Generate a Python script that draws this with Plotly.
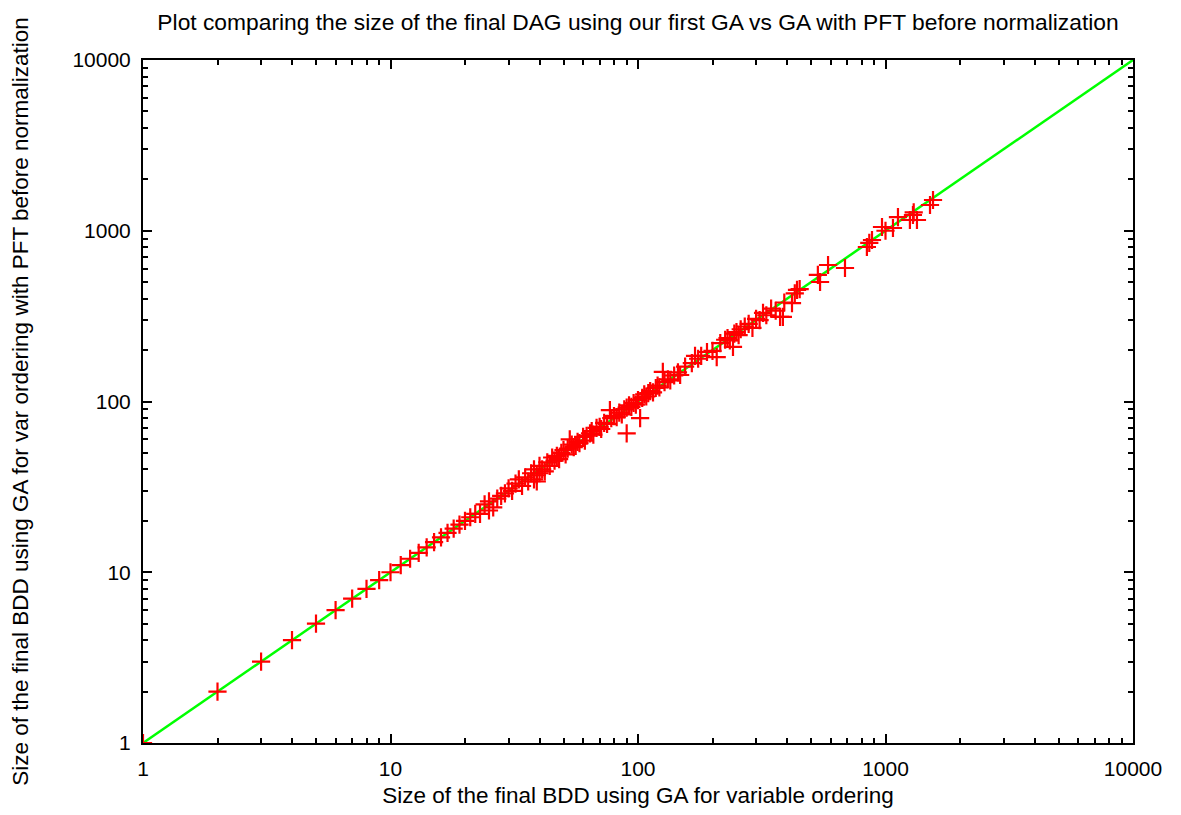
import plotly.graph_objects as go

# Data: (x = size with first GA, y = size with GA+PFT before normalization)
ga_sizes = [1, 2, 3, 4, 5, 6, 7, 8, 9,
            10, 11, 12, 13, 14, 15, 16, 17, 18, 19, 20, 21, 22, 23, 24, 25, 25, 26, 27, 28, 29,
            30, 31, 32, 33, 34, 35, 36, 37, 38, 38, 39, 39, 40, 40, 41, 42, 43, 44, 45, 46, 47, 48, 49,
            50, 51, 52, 53, 54, 55, 56, 57, 58, 60, 61, 62, 64, 65, 66, 68, 70, 71, 73, 75, 77, 78,
            80, 82, 84, 86, 88, 90, 90, 92, 94, 96, 98, 100, 102, 104, 106, 108, 110, 112, 115, 118,
            120, 122, 126, 128, 132, 135, 140, 145, 148, 155, 165, 170, 175, 180, 190, 200, 208, 215,
            225, 230, 235, 242, 245, 250, 255, 260, 270, 280, 290, 300, 310, 320, 330, 345, 360, 375,
            385, 390, 419, 430, 439, 450, 533, 544, 586, 686, 841, 860, 882, 968, 1000, 1072, 1123,
            1255, 1291, 1300, 1340, 1513, 1556]
pft_sizes = [1, 2, 3, 4, 5, 6, 7, 8, 9,
             10, 11, 12, 13, 14, 15, 16, 17, 18, 19, 20, 21, 22, 22, 25, 23, 26, 24, 27, 28, 29,
             31, 30, 33, 35, 32, 36, 34, 38, 35, 40, 37, 34, 42, 38, 40, 39, 44, 42, 47, 45, 48, 46, 50,
             52, 49, 53, 60, 56, 54, 55, 58, 57, 62, 59, 63, 65, 67, 64, 70, 71, 69, 75, 74, 89, 80,
             82, 81, 86, 84, 90, 65, 92, 95, 93, 98, 96, 102, 80, 105, 110, 107, 112, 115, 113, 120,
             124, 121, 149, 130, 135, 133, 142, 148, 143, 160, 168, 185, 178, 185, 195, 198, 182, 220,
             230, 235, 228, 209, 250, 255, 245, 265, 275, 285, 270, 305, 300, 330, 320, 350, 340, 313,
             313, 380, 377, 430, 450, 455, 551, 501, 630, 605, 803, 850, 883, 1052, 1000, 1038, 1203,
             1156, 1237, 1280, 1156, 1415, 1514]

diag = [1, 10000]

decades = [1, 10, 100, 1000, 10000]
tick_labels = ["1", "10", "100", "1000", "10000"]
minor_vals = [m * d for d in [1, 10, 100, 1000] for m in range(2, 10)]

FONT = "Liberation Sans, Arial, Helvetica, sans-serif"

fig = go.Figure()
fig.add_trace(go.Scatter(x=diag, y=diag, mode="lines",
                         line=dict(color="#00ff00", width=2.5), showlegend=False))
fig.add_trace(go.Scatter(x=ga_sizes, y=pft_sizes, mode="markers",
                         marker=dict(symbol="cross-thin", size=13,
                                     line=dict(color="#ff0000", width=2.2)),
                         showlegend=False))

axis_common = dict(
    type="log", showgrid=False, zeroline=False, automargin=False,
    showline=True, linecolor="black", linewidth=2, mirror="ticks",
    ticks="inside", ticklen=9, tickwidth=2, tickcolor="black",
    tickvals=decades, ticktext=tick_labels,
    tickfont=dict(family=FONT, size=21, color="black"),
    ticklabelstandoff=6,
    minor=dict(ticks="inside", ticklen=5, tickwidth=2, tickcolor="black",
               tickvals=minor_vals, showgrid=False),
    range=[0, 4],
)

fig.update_layout(
    width=1181, height=815,
    paper_bgcolor="white", plot_bgcolor="white",
    margin=dict(l=135, r=56, t=52, b=80),
    font=dict(family=FONT, color="black"),
    title=dict(text="Plot comparing the size of the final DAG using our first GA vs GA with PFT before normalization",
               x=0.5, xref="paper", xanchor="center", y=0.983, yanchor="middle",
               font=dict(size=22.8, color="black")),
    xaxis=dict(axis_common,
               title=dict(text="Size of the final BDD using GA for variable ordering",
                          font=dict(size=22.5), standoff=8)),
    yaxis=dict(axis_common,
               title=dict(text="Size of the final BDD using GA for var ordering with PFT before normalization",
                          font=dict(size=22.5), standoff=40)),
)

fig.write_html("out.html")
